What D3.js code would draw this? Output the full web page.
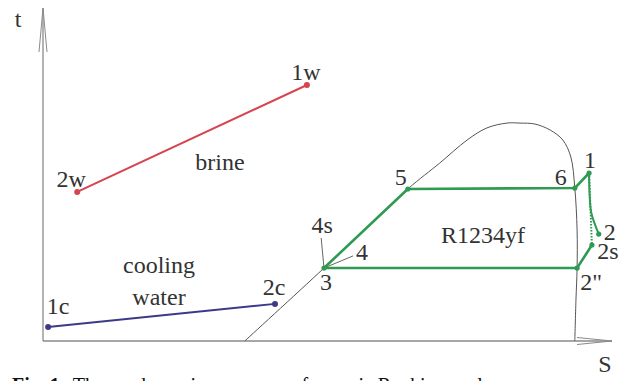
<!DOCTYPE html>
<html>
<head>
<meta charset="utf-8">
<script src="https://cdn.jsdelivr.net/npm/d3@7"></script>
<style>
  html, body { margin: 0; padding: 0; background: #fff; overflow: hidden; }
  svg { display: block; }
  text { font-family: "Liberation Serif", "DejaVu Serif", serif; fill: #333; }
</style>
</head>
<body>
<script>
// T-s diagram of an ORC: entropy S (x) vs temperature t (y), arbitrary units.

// Saturation dome of the working fluid
const domeS = [3.54, 4.93, 6.40, 6.96, 7.44, 7.79, 8.14, 8.37, 8.63, 8.90, 9.12, 9.26, 9.33, 9.37, 9.37, 9.35, 9.33];
const domeT = [0.00, 2.28, 4.75, 5.56, 6.28, 6.66, 6.81, 6.81, 6.78, 6.59, 6.28, 5.75, 4.78, 3.47, 2.28, 1.28, 0.00];

// Cycle state points
const stateNames = ["3", "5", "6", "1", "2", "2s", "2\""];
const stateS = [4.93, 6.40, 9.33, 9.58, 9.75, 9.63, 9.37];
const stateT = [2.28, 4.75, 4.78, 5.25, 3.34, 3.00, 2.28];

// Real expansion 1 -> 2
const expS = [9.58, 9.59, 9.62, 9.75];
const expT = [5.25, 4.56, 4.00, 3.34];

// Pump end points 4s and 4 (thin leader lines from state 3)
const pumpNames = ["4s", "4"];
const pumpS = [4.88, 5.44];
const pumpT = [3.22, 2.66];

// Heat source (brine) and heat sink (cooling water)
const brineNames = ["1w", "2w"];
const brineS = [4.63, 0.60];
const brineT = [8.00, 4.66];
const coolNames = ["1c", "2c"];
const coolS = [0.09, 4.07];
const coolT = [0.44, 1.16];

const W = 622, H = 381;
const svg = d3.select("body").append("svg").attr("width", W).attr("height", H);
svg.append("rect").attr("width", W).attr("height", H).attr("fill", "#fff");

const x = d3.scaleLinear().domain([0, 10]).range([43, 613]);
const y = d3.scaleLinear().domain([0, 10]).range([341, 21]);

const green = "#2f9a52", red = "#d7434f", navy = "#3c3a88", axisCol = "#8a8a8a";
const fs = 24;

// Axes with open arrowheads
const ax = svg.append("g").attr("stroke", axisCol).attr("fill", "none").attr("stroke-width", 1.3);
ax.append("line").attr("x1", x(0)).attr("y1", y(0)).attr("x2", x(0)).attr("y2", 8);
ax.append("path").attr("d", `M${x(0) - 4},52 L${x(0)},8 L${x(0) + 4},52`).attr("stroke-width", 1);
ax.append("line").attr("x1", x(0)).attr("y1", y(0)).attr("x2", 612).attr("y2", y(0));
ax.append("path").attr("d", `M577,${y(0) - 3.5} L612,${y(0)} L577,${y(0) + 3.5}`).attr("stroke-width", 1);
svg.append("text").attr("x", 18).attr("y", 27).attr("text-anchor", "middle").attr("font-size", fs).text("t");
svg.append("text").attr("x", 605).attr("y", 372).attr("text-anchor", "middle").attr("font-size", fs).text("S");

// Saturation dome
const dome = d3.range(domeS.length).map(i => [domeS[i], domeT[i]]);
svg.append("path")
  .attr("d", d3.line().x(d => x(d[0])).y(d => y(d[1])).curve(d3.curveCatmullRom.alpha(0.5))(dome))
  .attr("fill", "none").attr("stroke", "#555").attr("stroke-width", 1);

// Pump leader lines
const st = Object.fromEntries(stateNames.map((n, i) => [n, [stateS[i], stateT[i]]]));
pumpNames.forEach((n, i) => {
  svg.append("line")
    .attr("x1", x(st["3"][0])).attr("y1", y(st["3"][1]))
    .attr("x2", x(pumpS[i])).attr("y2", y(pumpT[i]))
    .attr("stroke", "#666").attr("stroke-width", 1);
});

// Cycle: 2s -> 2" -> 3 -> 5 -> 6 -> 1
const cycleOrder = ["2s", "2\"", "3", "5", "6", "1"];
const lineXY = d3.line().x(d => x(d[0])).y(d => y(d[1]));
svg.append("path").attr("d", lineXY(cycleOrder.map(n => st[n])))
  .attr("fill", "none").attr("stroke", green).attr("stroke-width", 2.6).attr("stroke-linejoin", "round");
// Isentropic expansion 1 -> 2s (dotted)
svg.append("path").attr("d", lineXY([st["1"], st["2s"]]))
  .attr("fill", "none").attr("stroke", green).attr("stroke-width", 2).attr("stroke-dasharray", "1.5,1.5");
// Real expansion 1 -> 2
const exp = d3.range(expS.length).map(i => [expS[i], expT[i]]);
svg.append("path")
  .attr("d", d3.line().x(d => x(d[0])).y(d => y(d[1])).curve(d3.curveCatmullRom)(exp))
  .attr("fill", "none").attr("stroke", green).attr("stroke-width", 2);
svg.selectAll("circle.st").data(stateNames).enter().append("circle")
  .attr("cx", n => x(st[n][0])).attr("cy", n => y(st[n][1])).attr("r", 2.6).attr("fill", green);

// State labels (offsets in px from the point)
const stateOff = { "3": [2, 22], "5": [-7, -4], "6": [-14, -3], "1": [1, -5], "2": [11, 6], "2s": [16, 14], "2\"": [14, 22] };
stateNames.forEach(n => {
  svg.append("text").attr("x", x(st[n][0]) + stateOff[n][0]).attr("y", y(st[n][1]) + stateOff[n][1])
    .attr("text-anchor", "middle").attr("font-size", fs).text(n);
});
const pumpOff = { "4s": [1, -5], "4": [9, 4] };
pumpNames.forEach((n, i) => {
  svg.append("text").attr("x", x(pumpS[i]) + pumpOff[n][0]).attr("y", y(pumpT[i]) + pumpOff[n][1])
    .attr("text-anchor", "middle").attr("font-size", fs).text(n);
});
svg.append("text").attr("x", 483).attr("y", 243).attr("text-anchor", "middle").attr("font-size", fs).text("R1234yf");

// Brine and cooling water
function stream(names, S, T, color, offs) {
  svg.append("line").attr("x1", x(S[0])).attr("y1", y(T[0])).attr("x2", x(S[1])).attr("y2", y(T[1]))
    .attr("stroke", color).attr("stroke-width", 2);
  names.forEach((n, i) => {
    svg.append("circle").attr("cx", x(S[i])).attr("cy", y(T[i])).attr("r", 3).attr("fill", color);
    svg.append("text").attr("x", x(S[i]) + offs[i][0]).attr("y", y(T[i]) + offs[i][1])
      .attr("text-anchor", "middle").attr("font-size", fs).text(n);
  });
}
stream(brineNames, brineS, brineT, red, [[-1, -5], [-6, -5]]);
stream(coolNames, coolS, coolT, navy, [[10, -13], [-1, -9]]);
svg.append("text").attr("x", 220).attr("y", 170).attr("text-anchor", "middle").attr("font-size", fs).text("brine");
svg.append("text").attr("x", 159).attr("y", 273).attr("text-anchor", "middle").attr("font-size", fs).text("cooling");
svg.append("text").attr("x", 159).attr("y", 305).attr("text-anchor", "middle").attr("font-size", fs).text("water");

// Figure caption
const cap = svg.append("text").attr("x", 12).attr("y", 392).attr("font-size", 20).style("fill", "#111");
cap.append("tspan").attr("font-weight", "bold").text("Fig. 1.");
cap.append("tspan").attr("dx", 8).text("Thermodynamic processes of organic Rankine cycle");
</script>
</body>
</html>
